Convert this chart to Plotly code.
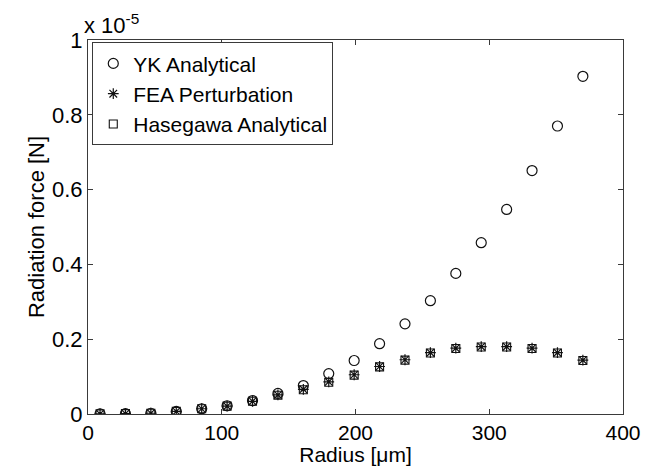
import plotly.graph_objects as go

# Data (force values in units of 1e-5 N)
radius_um = [9, 28, 47, 66, 85, 104, 123, 142, 161, 180,
             199, 218, 237, 256, 275, 294, 313, 332, 351, 370]
force_yk = [0.0003, 0.001, 0.002, 0.007, 0.014, 0.022, 0.036, 0.055, 0.076, 0.108,
            0.143, 0.188, 0.241, 0.303, 0.376, 0.458, 0.547, 0.651, 0.770, 0.903]
force_fea = [0.0003, 0.001, 0.002, 0.007, 0.014, 0.021, 0.034, 0.051, 0.066, 0.086,
             0.105, 0.127, 0.145, 0.164, 0.176, 0.180, 0.180, 0.176, 0.164, 0.144]
force_hasegawa = [0.0003, 0.001, 0.002, 0.007, 0.014, 0.021, 0.034, 0.050, 0.065, 0.085,
                  0.104, 0.126, 0.144, 0.163, 0.175, 0.179, 0.179, 0.175, 0.163, 0.143]

x_ticks = [0, 100, 200, 300, 400]
x_tick_labels = ["0", "100", "200", "300", "400"]
y_ticks = [0, 0.2, 0.4, 0.6, 0.8, 1.0]
y_tick_labels = ["0", "0.2", "0.4", "0.6", "0.8", "1"]

FONT = "Liberation Sans, Arial, sans-serif"
AX = "#3a3a3a"
FS = 22

fig = go.Figure()
fig.add_trace(go.Scatter(
    x=radius_um, y=force_yk, mode="markers", name="YK Analytical",
    marker=dict(symbol="circle-open", size=10, color="#111", line=dict(width=1.2, color="#111"))))
fig.add_trace(go.Scatter(
    x=radius_um, y=force_fea, mode="markers", name="FEA Perturbation",
    marker=dict(symbol="asterisk-open", size=9, color="#111", line=dict(width=1.2, color="#111"))))
fig.add_trace(go.Scatter(
    x=radius_um, y=force_hasegawa, mode="markers", name="Hasegawa Analytical",
    marker=dict(symbol="square-open", size=8, color="#111", line=dict(width=1.1, color="#111"))))

axis_common = dict(
    showline=True, linecolor=AX, linewidth=1, mirror="ticks",
    ticks="inside", ticklen=5, tickcolor=AX, tickwidth=1,
    showgrid=False, zeroline=False, automargin=False,
)

fig.update_layout(
    width=649, height=466,
    margin=dict(l=88, r=26, t=40, b=52),
    paper_bgcolor="white", plot_bgcolor="white",
    font=dict(family=FONT, size=FS, color="black"),
    showlegend=True,
    legend=dict(
        x=0.008, y=0.994, xanchor="left", yanchor="top",
        bgcolor="white", bordercolor=AX, borderwidth=1,
        font=dict(family=FONT, size=21, color="black"),
        itemwidth=30, tracegroupgap=0,
    ),
    xaxis=dict(range=[0, 400], tickvals=x_ticks, ticktext=x_tick_labels,
               tickfont=dict(family=FONT, size=21, color="black"),
               title=dict(text="Radius [μm]", font=dict(family=FONT, size=21), standoff=6),
               **axis_common),
    yaxis=dict(range=[0, 1], tickvals=y_ticks, ticktext=y_tick_labels,
               tickfont=dict(family=FONT, size=FS, color="black"),
               title=dict(text="Radiation force [N]", font=dict(family=FONT, size=FS), standoff=1),
               **axis_common),
    annotations=[dict(
        text="x 10<sup>-5</sup>", xref="paper", yref="paper", x=0.0, y=1.0,
        xanchor="left", yanchor="bottom", showarrow=False, yshift=0, xshift=-6,
        font=dict(family=FONT, size=FS, color="black"))],
)

fig.write_html("out.html", config={"displayModeBar": False},
               post_script="document.body.style.margin='0';document.body.style.overflow='hidden';")
